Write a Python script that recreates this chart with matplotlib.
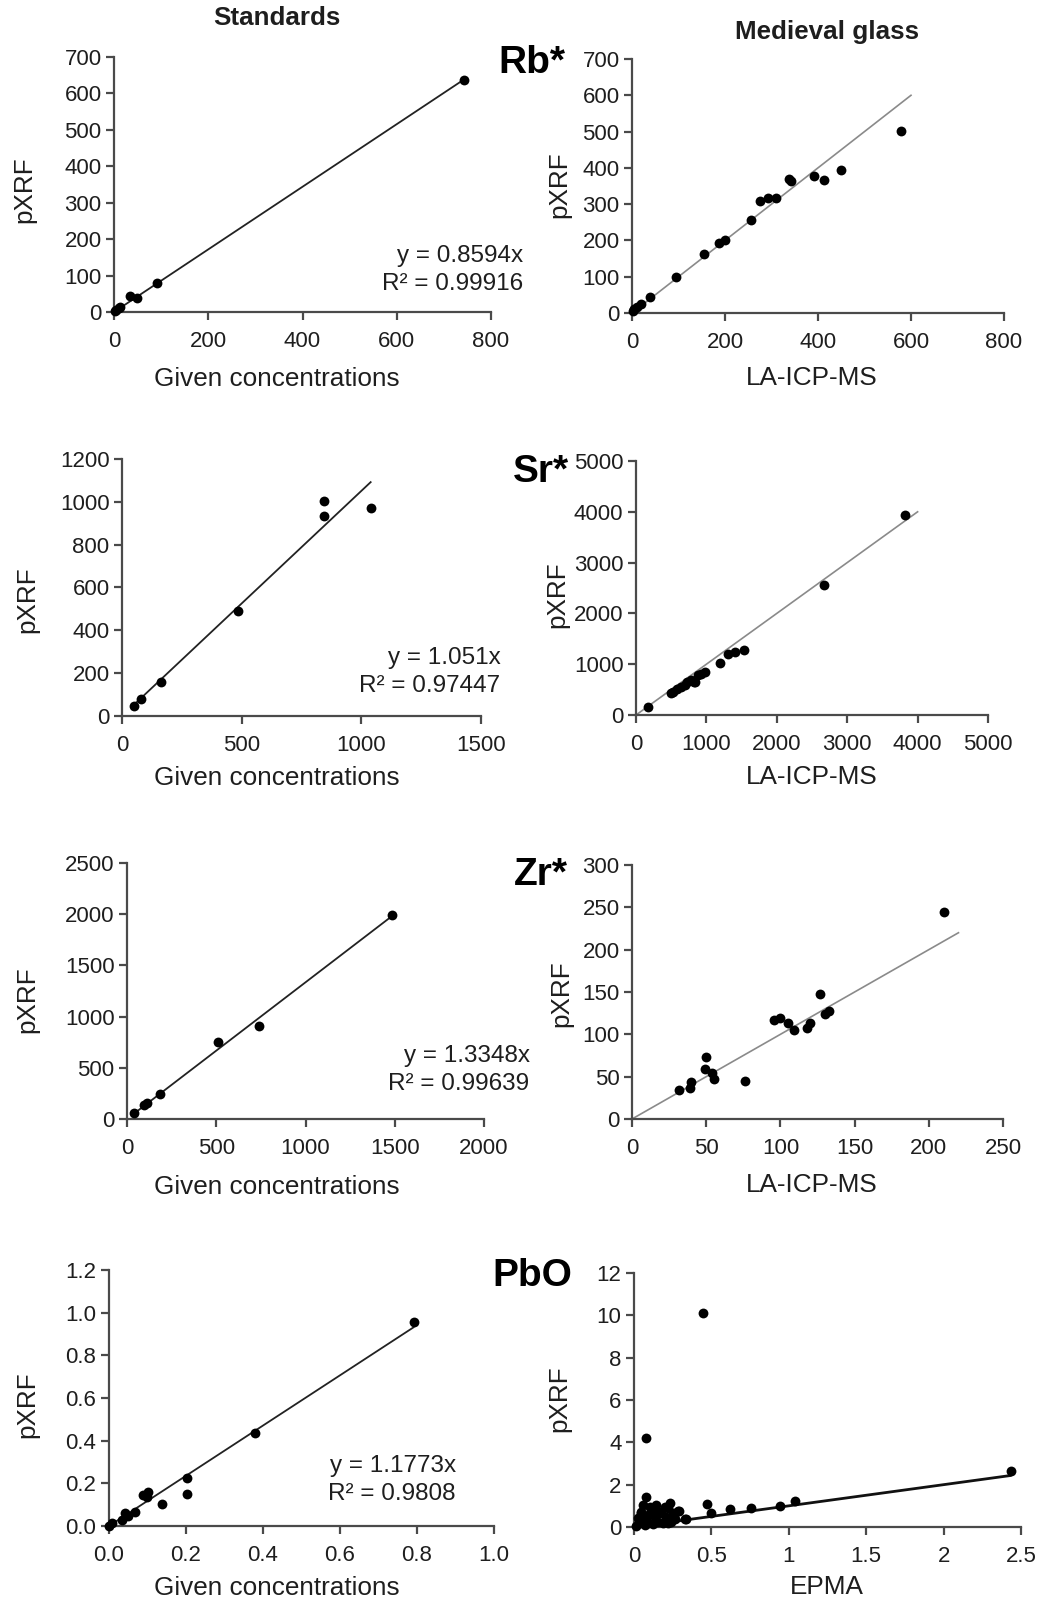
import matplotlib
matplotlib.use("Agg")
import matplotlib.pyplot as plt
from matplotlib.ticker import FormatStrFormatter, FuncFormatter

plt.rcParams['font.family'] = ['Liberation Sans', 'DejaVu Sans']

# Rb* : standards vs given concentrations, medieval glass vs LA-ICP-MS
rb_std_x = [2, 5, 10, 13, 34, 48, 92, 742]
rb_std_y = [2, 5, 12, 14, 43, 38, 80, 636]
rb_std_slope = 0.8594
rb_std_r2 = "0.99916"
rb_med_x = [3, 5, 11, 19, 38, 95, 155, 187, 201, 255, 275, 293, 310, 337, 341, 391, 413, 449, 578]
rb_med_y = [5, 12, 17, 24, 45, 100, 163, 192, 200, 257, 310, 316, 316, 370, 363, 377, 367, 393, 502]
rb_ref_max = 600

# Sr*
sr_std_x = [49, 78, 163, 485, 845, 845, 1039]
sr_std_y = [48, 80, 159, 492, 1003, 932, 971]
sr_std_slope = 1.051
sr_std_r2 = "0.97447"
sr_med_x = [166, 501, 530, 582, 640, 690, 724, 780, 820, 837, 885, 920, 974, 1187, 1306, 1410, 1537, 2668, 3827]
sr_med_y = [151, 426, 460, 505, 560, 583, 642, 688, 640, 655, 786, 800, 839, 1016, 1199, 1245, 1284, 2556, 3945]
sr_ref_max = 4000

# Zr*
zr_std_x = [37, 93, 114, 186, 509, 742, 1486]
zr_std_y = [62, 136, 156, 247, 750, 909, 1994]
zr_std_slope = 1.3348
zr_std_r2 = "0.99639"
zr_med_x = [31.6, 39, 40, 49, 50, 54, 55, 76, 96, 100, 105, 109, 118, 120, 130, 132.5, 127, 210]
zr_med_y = [34, 36.5, 44, 59, 73, 54, 47.5, 45, 117, 119, 113, 105, 107, 113, 124, 128, 148, 244]
zr_ref_max = 220

# PbO (wt%)
pbo_std_x = [0.0, 0.009, 0.033, 0.042, 0.050, 0.068, 0.089, 0.098, 0.100, 0.137, 0.2016, 0.2016, 0.380, 0.791]
pbo_std_y = [0.002, 0.012, 0.028, 0.059, 0.047, 0.064, 0.145, 0.137, 0.161, 0.105, 0.227, 0.150, 0.434, 0.956]
pbo_std_slope = 1.1773
pbo_std_r2 = "0.9808"
pbo_med_x = [0.015, 0.026, 0.037, 0.047, 0.047, 0.058, 0.058, 0.069, 0.077, 0.080, 0.080, 0.090, 0.090,
             0.101, 0.112, 0.123, 0.123, 0.134, 0.144, 0.155, 0.166, 0.177, 0.187, 0.198, 0.209, 0.220,
             0.220, 0.230, 0.240, 0.250, 0.263, 0.284, 0.293, 0.329, 0.334, 0.445, 0.473, 0.499, 0.617,
             0.753, 0.942, 1.043, 2.435, 0.077]
pbo_med_y = [0.05, 0.41, 0.17, 0.72, 0.65, 0.33, 1.04, 0.09, 1.42, 0.36, 0.36, 0.55, 0.20,
             0.96, 0.83, 0.14, 0.65, 0.46, 1.04, 0.25, 0.72, 0.65, 0.17, 0.96, 0.49, 0.20,
             0.88, 1.15, 0.25, 0.65, 0.36, 0.77, 0.74, 0.36, 0.36, 10.13, 1.10, 0.66, 0.85,
             0.91, 0.99, 1.23, 2.65, 4.22]
pbo_ref_max = 2.43

W, H = 1048, 1602
fig = plt.figure(figsize=(W / 100, H / 100), dpi=100)

TEXT = '#1e1e1e'
AXC = '#4a4a4a'


def make_ax(x0, y0, x1, y1):
    return fig.add_axes([x0 / W, 1 - y1 / H, (x1 - x0) / W, (y1 - y0) / H])


def style(ax, xmax, xstep, ymax, ystep, xlabel, xlab_px, ylab_px, box, xfmt=None, yfmt=None):
    x0, y0, x1, y1 = box
    ax.set_xlim(0, xmax)
    ax.set_ylim(0, ymax)
    nx = int(round(xmax / xstep))
    ny = int(round(ymax / ystep))
    ax.set_xticks([i * xstep for i in range(nx + 1)])
    ax.set_yticks([i * ystep for i in range(ny + 1)])
    if xfmt:
        ax.xaxis.set_major_formatter(xfmt)
    if yfmt:
        ax.yaxis.set_major_formatter(yfmt)
    for s in ['top', 'right']:
        ax.spines[s].set_visible(False)
    for s in ['left', 'bottom']:
        ax.spines[s].set_color(AXC)
        ax.spines[s].set_linewidth(1.6)
    ax.tick_params(axis='both', direction='out', length=6, width=1.6, color=AXC,
                   labelsize=16, labelcolor=TEXT)
    ax.tick_params(axis='x', pad=8)
    ax.tick_params(axis='y', pad=3)
    ax.set_xlabel(xlabel, fontsize=18.8, color=TEXT)
    ax.set_ylabel('pXRF', fontsize=18.8, color=TEXT)
    # label centres given in figure pixels
    ax.xaxis.set_label_coords((xlab_px[0] - x0) / (x1 - x0), (y1 - xlab_px[1]) / (y1 - y0))
    ax.yaxis.set_label_coords((ylab_px[0] - x0) / (x1 - x0), (y1 - ylab_px[1]) / (y1 - y0))
    ax.xaxis.label.set_va('center')
    ax.yaxis.label.set_va('center')
    ax.yaxis.label.set_ha('center')


def dots(ax, x, y):
    ax.scatter(x, y, s=50, color='black', zorder=3, clip_on=False, linewidths=0)


def std_fit(ax, x, slope, r2, text_px, box):
    x0, y0, x1, y1 = box
    xs = [min(x), max(x)]
    ax.plot(xs, [slope * v for v in xs], color='#222222', lw=1.3, zorder=2)
    ax.text((text_px[0] - x0) / (x1 - x0), (y1 - text_px[1]) / (y1 - y0),
            "y = %sx\nR² = %s" % (slope, r2), transform=ax.transAxes,
            ha='center', va='center', multialignment='right', fontsize=17.5,
            color=TEXT, linespacing=1.38)


def ref_line(ax, xmax, color='#8a8a8a', lw=1.2):
    ax.plot([0, xmax], [0, xmax], color=color, lw=lw, zorder=2)


# Rb*
b = (114, 57, 491, 312)
ax = make_ax(*b)
dots(ax, rb_std_x, rb_std_y)
std_fit(ax, rb_std_x, rb_std_slope, rb_std_r2, (453, 270), b)
style(ax, 800, 200, 700, 100, 'Given concentrations', (277, 379), (24, 190), b)

b = (632, 59, 1004, 313)
ax = make_ax(*b)
ref_line(ax, rb_ref_max)
dots(ax, rb_med_x, rb_med_y)
style(ax, 800, 200, 700, 100, 'LA-ICP-MS', (812, 378), (559, 185), b)

# Sr*
b = (122, 459, 481, 716)
ax = make_ax(*b)
dots(ax, sr_std_x, sr_std_y)
std_fit(ax, sr_std_x, sr_std_slope, sr_std_r2, (430, 672), b)
style(ax, 1500, 500, 1200, 200, 'Given concentrations', (277, 778), (27, 600), b)

b = (636, 461, 988, 715)
ax = make_ax(*b)
ref_line(ax, sr_ref_max)
dots(ax, sr_med_x, sr_med_y)
style(ax, 5000, 1000, 5000, 1000, 'LA-ICP-MS', (812, 777), (557, 595), b)

# Zr*
b = (127, 863, 484, 1119)
ax = make_ax(*b)
dots(ax, zr_std_x, zr_std_y)
std_fit(ax, zr_std_x, zr_std_slope, zr_std_r2, (459, 1070), b)
style(ax, 2000, 500, 2500, 500, 'Given concentrations', (277, 1187), (27, 1000), b)

b = (632, 865, 1003, 1119)
ax = make_ax(*b)
ref_line(ax, zr_ref_max)
dots(ax, zr_med_x, zr_med_y)
style(ax, 250, 50, 300, 50, 'LA-ICP-MS', (812, 1185), (561, 994), b)

# PbO
b = (109, 1270, 494, 1526)
ax = make_ax(*b)
dots(ax, pbo_std_x, pbo_std_y)
std_fit(ax, pbo_std_x, pbo_std_slope, pbo_std_r2, (392, 1480), b)
style(ax, 1.0, 0.2, 1.2, 0.2, 'Given concentrations', (277, 1588), (27, 1405), b,
      xfmt=FormatStrFormatter('%.1f'), yfmt=FormatStrFormatter('%.1f'))

b = (634, 1273, 1021, 1527)
ax = make_ax(*b)
ref_line(ax, pbo_ref_max, color='#111111', lw=2.0)
dots(ax, pbo_med_x, pbo_med_y)
style(ax, 2.5, 0.5, 12, 2, 'EPMA', (827, 1587), (559, 1399), b,
      xfmt=FuncFormatter(lambda v, p: '%g' % v))

# column headings and element names
fig.text(277 / W, 1 - 18 / H, 'Standards', ha='center', va='center',
         fontsize=18.7, fontweight='bold', color=TEXT)
fig.text(827 / W, 1 - 32 / H, 'Medieval glass', ha='center', va='center',
         fontsize=18.7, fontweight='bold', color=TEXT)
for name, xpx, ypx in [('Rb*', 565, 63), ('Sr*', 569, 472), ('Zr*', 568, 875), ('PbO', 572, 1276)]:
    fig.text(xpx / W, 1 - ypx / H, name, ha='right', va='center',
             fontsize=28, fontweight='bold', color='black')

fig.savefig('out.png', dpi=100, facecolor='white')
